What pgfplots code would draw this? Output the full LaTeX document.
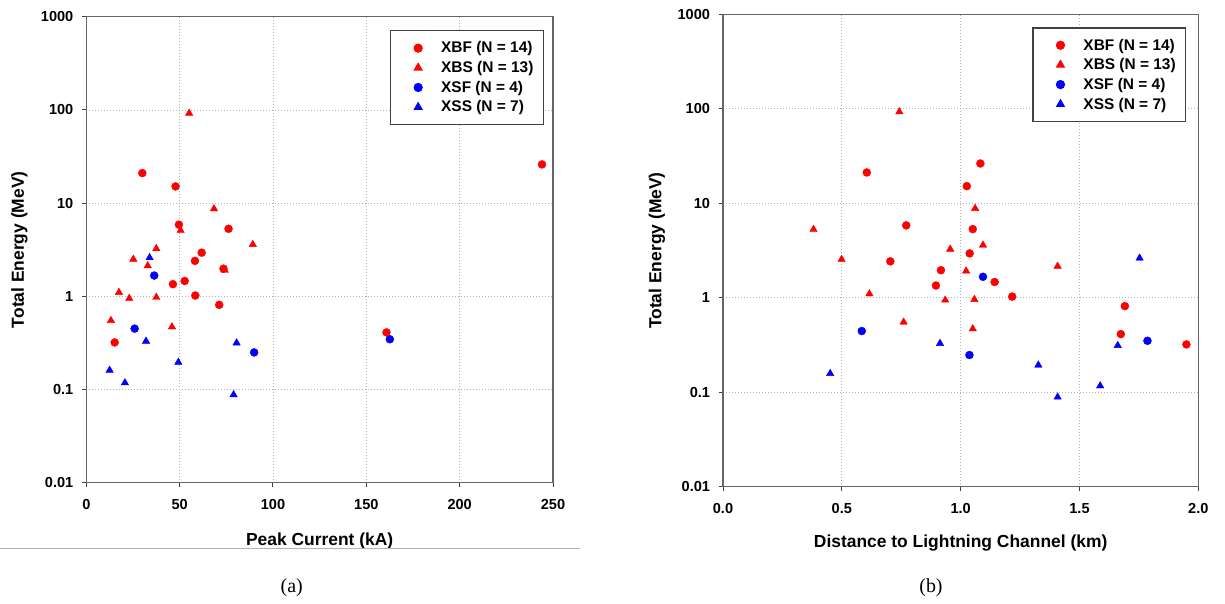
\documentclass[border=0pt]{standalone}
\usepackage{fontspec}
\setmainfont{Liberation Sans}
\newfontfamily\seriffont{Liberation Serif}
\usepackage{pgfplots}
\pgfplotsset{compat=1.18}
\begin{document}
\begin{tikzpicture}
\path[use as bounding box] (0bp,0bp) rectangle (1225bp,-604bp);

\begin{axis}[
  scale only axis,
  at={(86.3bp,-482.7bp)}, anchor=south west,
  width=466.7bp, height=466bp,
  xmin=0, xmax=250, xtick={0,50,100,150,200,250},
  xlabel={Peak Current (kA)},
  ymode=log,
  ymin=0.01, ymax=1000,
  ytick={0.01,0.1,1,10,100,1000},
  yticklabels={0.01,0.1,1,10,100,1000},
  yminorticks=false,
  tick align=outside,
  xtick pos=bottom, ytick pos=left,
  major tick length=4.5bp,
  tick style={black!75, line width=1bp},
  axis line style={black!60, line width=1.3bp},
  grid=major,
  major grid style={black!30, line width=0.8bp, dash pattern=on 1bp off 2bp},
  tick label style={font=\fontsize{14.6}{16}\selectfont\bfseries, /pgf/number format/assume math mode=true},
  yticklabel style={xshift=-5bp},
  xticklabel style={yshift=-9bp},
  label style={font=\fontsize{17.5}{20}\selectfont\bfseries},
  xlabel style={at={(axis description cs:0.5,0)}, anchor=center, yshift=-58.5bp},
  ylabel style={at={([xshift=-67bp]axis description cs:0,0.5)}, anchor=center},
  ylabel={Total Energy (MeV)},
  legend cell align=left,
  legend image code/.code={%
    \path[draw=none, fill=none] (0bp,0bp) -- (40.4bp,0bp);
    \draw[#1, only marks] plot coordinates {(19.4bp,0bp)};
  },
  legend style={
    at={(1,1)}, anchor=north east, xshift=-9bp, yshift=-13.5bp,
    draw=black!75, line width=1.2bp,
    font=\fontsize{15.5}{18}\selectfont\bfseries,
    inner xsep=8bp, inner ysep=9bp, row sep=3bp,
  },
]
\addplot[only marks, mark=*, mark size=4bp, red, mark options={draw=red, fill=red}] coordinates {(30.0,21) (47.8,15.1) (49.6,5.87) (76.2,5.3) (61.8,2.94) (58.2,2.4) (73.5,1.98) (52.7,1.46) (46.4,1.35) (58.4,1.02) (71.2,0.81) (15.2,0.32) (244.1,26) (160.8,0.41)};
\addlegendentry{XBF (N = 14)}
\addplot[only marks, mark=triangle*, mark size=4.3bp, red, mark options={draw=red, fill=red}] coordinates {(68.4,8.7) (50.5,5.1) (89.2,3.6) (37.5,3.25) (25.2,2.5) (32.9,2.13) (74.2,1.9) (17.5,1.1) (23.0,0.95) (37.5,0.975) (13.2,0.55) (45.9,0.47) (55.1,92)};
\addlegendentry{XBS (N = 13)}
\addplot[only marks, mark=*, mark size=4bp, blue, mark options={draw=blue, fill=blue}] coordinates {(36.4,1.67) (25.9,0.45) (89.9,0.25) (162.6,0.346)};
\addlegendentry{XSF (N = 4)}
\addplot[only marks, mark=triangle*, mark size=4.3bp, blue, mark options={draw=blue, fill=blue}] coordinates {(33.9,2.6) (32.0,0.33) (80.5,0.316) (49.3,0.196) (12.5,0.161) (20.7,0.118) (78.9,0.088)};
\addlegendentry{XSS (N = 7)}
\end{axis}

\begin{axis}[
  scale only axis,
  at={(723bp,-486.8bp)}, anchor=south west,
  width=475.3bp, height=472.5bp,
  xmin=0, xmax=2, xtick={0,0.5,1,1.5,2},
  xlabel={Distance to Lightning Channel (km)},
  ymode=log,
  ymin=0.01, ymax=1000,
  ytick={0.01,0.1,1,10,100,1000},
  yticklabels={0.01,0.1,1,10,100,1000},
  yminorticks=false,
  tick align=outside,
  xtick pos=bottom, ytick pos=left,
  major tick length=4.5bp,
  tick style={black!75, line width=1bp},
  axis line style={black!60, line width=1.3bp},
  grid=major,
  major grid style={black!30, line width=0.8bp, dash pattern=on 1bp off 2bp},
  tick label style={font=\fontsize{14.6}{16}\selectfont\bfseries, /pgf/number format/assume math mode=true},
  yticklabel style={xshift=-5bp},
  xticklabel style={yshift=-9bp, /pgf/number format/fixed, /pgf/number format/fixed zerofill, /pgf/number format/precision=1},
  label style={font=\fontsize{17.5}{20}\selectfont\bfseries},
  xlabel style={at={(axis description cs:0.5,0)}, anchor=center, yshift=-56bp},
  ylabel style={at={([xshift=-66bp]axis description cs:0,0.5)}, anchor=center},
  ylabel={Total Energy (MeV)},
  legend cell align=left,
  legend image code/.code={%
    \path[draw=none, fill=none] (0bp,0bp) -- (40.4bp,0bp);
    \draw[#1, only marks] plot coordinates {(19.4bp,0bp)};
  },
  legend style={
    at={(1,1)}, anchor=north east, xshift=-12bp, yshift=-13bp,
    draw=black!75, line width=1.2bp,
    font=\fontsize{15.5}{18}\selectfont\bfseries,
    inner xsep=8bp, inner ysep=9bp, row sep=3bp,
  },
]
\addplot[only marks, mark=*, mark size=4bp, red, mark options={draw=red, fill=red}] coordinates {(0.605,21.2) (1.026,15.2) (1.083,26.4) (0.771,5.84) (1.051,5.33) (1.038,2.95) (0.704,2.43) (0.917,1.96) (0.896,1.35) (1.143,1.47) (1.217,1.03) (1.691,0.817) (1.674,0.413) (1.950,0.321)};
\addlegendentry{XBF (N = 14)}
\addplot[only marks, mark=triangle*, mark size=4.3bp, red, mark options={draw=red, fill=red}] coordinates {(1.061,8.83) (0.381,5.3) (0.956,3.27) (0.499,2.55) (1.023,1.92) (0.616,1.1) (0.935,0.946) (1.058,0.96) (0.760,0.553) (1.051,0.47) (1.094,3.61) (1.408,2.16) (0.742,93)};
\addlegendentry{XBS (N = 13)}
\addplot[only marks, mark=*, mark size=4bp, blue, mark options={draw=blue, fill=blue}] coordinates {(0.584,0.445) (1.037,0.248) (1.094,1.67) (1.786,0.351)};
\addlegendentry{XSF (N = 4)}
\addplot[only marks, mark=triangle*, mark size=4.3bp, blue, mark options={draw=blue, fill=blue}] coordinates {(0.913,0.329) (0.451,0.158) (1.753,2.63) (1.661,0.313) (1.327,0.194) (1.587,0.117) (1.408,0.089)};
\addlegendentry{XSS (N = 7)}
\end{axis}

\draw[black!30, line width=1bp] (0bp,-548.3bp) -- (580bp,-548.3bp);
\node[font=\seriffont\fontsize{20}{22}\selectfont] at (291.7bp,-588bp) {(a)};
\node[font=\seriffont\fontsize{20}{22}\selectfont] at (931bp,-588bp) {(b)};
\end{tikzpicture}
\end{document}
